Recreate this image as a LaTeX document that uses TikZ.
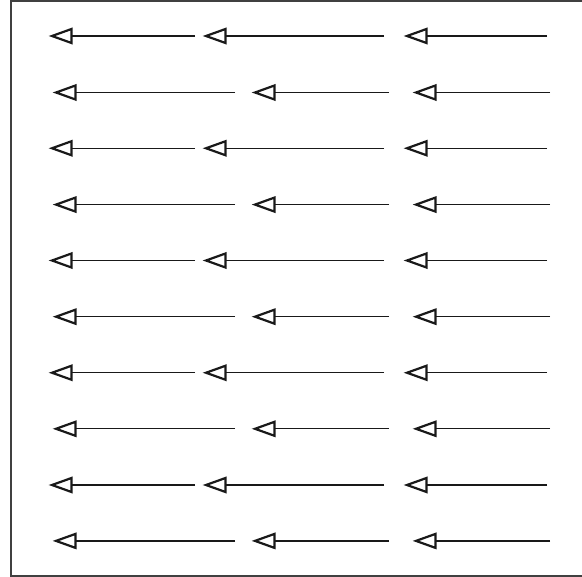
\documentclass[tikz,border=0pt]{standalone}
\begin{document}
\begin{tikzpicture}[x=1pt,y=-1pt,
  conn/.style={line width=1.3pt,black!90},
  tiptri/.style={line width=2.2pt,black!90,line join=miter,fill=white},
  frame/.style={line width=1.2pt,black!75}]
\useasboundingbox (0,0) rectangle (582,577);
\draw[frame] (11,1) rectangle (585,576);
\foreach \k in {0,...,4}{
  \pgfmathsetmacro{\ya}{36+112.25*\k}
  \pgfmathsetmacro{\yb}{92.5+112.1*\k}
  \foreach \n/\sx/\ex/\yy/\r in {1/195/50/\ya/a, 2/384/204/\ya/a, 3/547/405/\ya/a,
                                 1/235/54/\yb/b, 2/389/253/\yb/b, 3/550/414/\yb/b}{
    \coordinate (\r\n s\k) at (\sx,\yy);
    \coordinate (\r\n e\k) at (\ex,\yy);
    \draw[conn] (\r\n s\k) -- ([xshift=21pt]\r\n e\k);
    \draw[tiptri] ([xshift=2pt]\r\n e\k) -- ++(19.5,-7) -- ++(0,14) -- cycle;
  }
}
\end{tikzpicture}
\end{document}
